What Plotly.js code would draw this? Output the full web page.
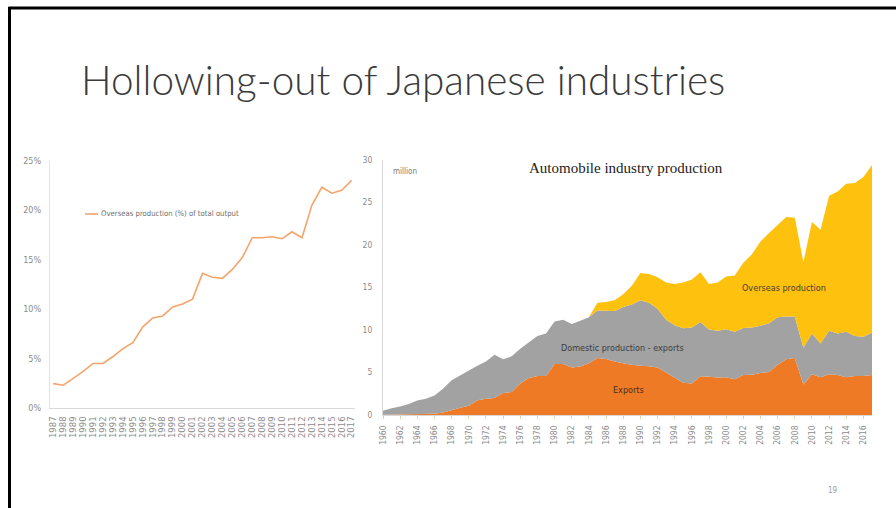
<!DOCTYPE html>
<html>
<head>
<meta charset="utf-8">
<script src="https://cdn.plot.ly/plotly-3.0.1.min.js"></script>
<style>
html,body{margin:0;padding:0;background:#fff;}
#chart{width:896px;height:508px;}
</style>
</head>
<body>
<div id="chart"></div>
<script>
// ---- Left chart data: overseas production share (%) ----
const shareYears = [1987,1988,1989,1990,1991,1992,1993,1994,1995,1996,1997,1998,1999,2000,2001,2002,2003,2004,2005,2006,2007,2008,2009,2010,2011,2012,2013,2014,2015,2016,2017];
const overseasShare = [2.46,2.3,3.0,3.7,4.5,4.5,5.2,6.0,6.6,8.2,9.1,9.3,10.2,10.5,11.0,13.6,13.2,13.1,14.0,15.2,17.2,17.2,17.3,17.1,17.8,17.2,20.5,22.3,21.7,22.0,23.0];
const shareTickVals = [0,5,10,15,20,25];

// ---- Right chart data: automobile production (million units) ----
const autoYears = [];
for (let y = 1960; y <= 2017; y++) autoYears.push(y);
const exportsM = [0.02,0.03,0.04,0.05,0.07,0.1,0.15,0.3,0.6,0.85,1.1,1.75,1.9,2.0,2.6,2.7,3.7,4.35,4.6,4.6,6.0,6.0,5.6,5.7,6.1,6.7,6.6,6.3,6.1,5.9,5.8,5.75,5.6,5.0,4.5,3.8,3.7,4.55,4.5,4.4,4.45,4.2,4.7,4.75,4.95,5.05,5.9,6.55,6.7,3.6,4.8,4.45,4.8,4.7,4.45,4.6,4.6,4.7];
const domesticMinusExports = [0.48,0.77,0.96,1.25,1.63,1.8,2.15,2.8,3.5,3.85,4.2,4.05,4.4,5.1,3.95,4.2,4.1,4.15,4.7,5.0,5.0,5.2,5.1,5.4,5.4,5.6,5.7,5.95,6.6,7.1,7.7,7.45,6.9,6.2,6.05,6.4,6.6,6.4,5.55,5.5,5.65,5.6,5.55,5.55,5.55,5.75,5.6,5.05,4.9,4.3,4.8,3.95,5.1,4.9,5.35,4.7,4.6,5.0];
const overseasM = [0,0,0,0,0,0,0,0,0,0,0,0,0,0,0,0,0,0,0,0,0,0,0,0,0,0.9,1.0,1.25,1.5,2.2,3.2,3.4,3.7,4.4,4.85,5.4,5.65,5.85,5.35,5.7,6.2,6.6,7.65,8.6,9.9,10.6,10.9,11.7,11.6,10.1,13.1,13.4,15.9,16.7,17.4,18.0,18.8,19.7];
const autoTickYears = [];
for (let y = 1960; y <= 2016; y += 2) autoTickYears.push(y);
const autoTickVals = [0,5,10,15,20,25,30];

const W = 896, H = 508;
const px = v => v / W;
const py = v => 1 - v / H;

const narrow = "Liberation Sans Narrow, DejaVu Sans Condensed, Arial Narrow, sans-serif";

const traces = [
  {
    x: shareYears, y: overseasShare, type: 'scatter', mode: 'lines',
    line: {color: '#F4A46C', width: 1.6},
    xaxis: 'x', yaxis: 'y', showlegend: false, hoverinfo: 'skip'
  },
  {
    x: autoYears, y: exportsM, type: 'scatter', mode: 'lines', stackgroup: 'auto',
    line: {width: 0, color: '#EE7A26'}, fillcolor: '#EE7A26',
    xaxis: 'x2', yaxis: 'y2', showlegend: false, hoverinfo: 'skip'
  },
  {
    x: autoYears, y: domesticMinusExports, type: 'scatter', mode: 'lines', stackgroup: 'auto',
    line: {width: 0, color: '#A2A2A2'}, fillcolor: '#A2A2A2',
    xaxis: 'x2', yaxis: 'y2', showlegend: false, hoverinfo: 'skip'
  },
  {
    x: autoYears, y: overseasM, type: 'scatter', mode: 'lines', stackgroup: 'auto',
    line: {width: 0, color: '#FDC10E'}, fillcolor: '#FDC10E',
    xaxis: 'x2', yaxis: 'y2', showlegend: false, hoverinfo: 'skip'
  }
];

const layout = {
  width: W, height: H,
  margin: {l: 0, r: 0, t: 0, b: 0, pad: 0},
  paper_bgcolor: '#ffffff', plot_bgcolor: 'rgba(0,0,0,0)',
  showlegend: false,
  xaxis: {
    domain: [px(50), px(355)], range: [1986.67, 2017.33], anchor: 'y',
    tickvals: shareYears, ticktext: shareYears.map(String), tickangle: -90,
    tickfont: {family: 'DejaVu Sans, sans-serif', size: 8.5, color: '#8c8c8c'},
    showline: true, linecolor: '#d9d9d9', linewidth: 1, ticks: '',
    showgrid: false, zeroline: false, fixedrange: true, ticklabelstandoff: 4
  },
  yaxis: {
    domain: [py(408), py(160.5)], range: [0, 25], anchor: 'x',
    tickvals: shareTickVals, ticktext: shareTickVals.map(v => v + '%'),
    tickfont: {family: narrow, size: 9, color: '#8c8c8c'},
    showline: true, linecolor: '#e3e3e3', linewidth: 1, ticks: '',
    showgrid: false, zeroline: false, fixedrange: true, ticklabelstandoff: 6
  },
  xaxis2: {
    domain: [px(383), px(872)], range: [1960, 2017], anchor: 'y2',
    tickvals: autoTickYears, ticktext: autoTickYears.map(String), tickangle: -90,
    tickfont: {family: narrow, size: 8.5, color: '#8c8c8c'},
    showline: true, linecolor: '#d9d9d9', linewidth: 1,
    ticks: 'outside', ticklen: 3, tickcolor: '#e6d2b0',
    showgrid: false, zeroline: false, fixedrange: true, ticklabelstandoff: 3
  },
  yaxis2: {
    domain: [py(415), py(160)], range: [0, 30], anchor: 'x2',
    tickvals: autoTickVals, ticktext: autoTickVals.map(String),
    tickfont: {family: narrow, size: 8.5, color: '#8c8c8c'},
    showline: true, linecolor: '#d9d9d9', linewidth: 1, ticks: '',
    showgrid: false, zeroline: false, fixedrange: true, ticklabelstandoff: 8
  },
  shapes: [
    // slide border
    {type: 'line', xref: 'paper', yref: 'paper', x0: px(8.5), x1: 1, y0: py(8), y1: py(8), line: {color: '#000', width: 3}},
    {type: 'line', xref: 'paper', yref: 'paper', x0: px(9.5), x1: px(9.5), y0: py(7), y1: 0, line: {color: '#000', width: 3}},
    // left legend line sample
    {type: 'line', xref: 'paper', yref: 'paper', x0: px(85), x1: px(98), y0: py(214), y1: py(214), line: {color: '#F4A46C', width: 1.6}}
  ],
  annotations: [
    {xref: 'paper', yref: 'paper', x: px(79), y: py(80), xanchor: 'left', yanchor: 'middle', showarrow: false,
     text: 'Hollowing-out of Japanese industries',
     font: {family: 'Lato, Noto Sans, sans-serif', size: 40.5, color: '#3a3a3a', weight: 300}},
    {xref: 'paper', yref: 'paper', x: px(99), y: py(214), xanchor: 'left', yanchor: 'middle', showarrow: false,
     text: 'Overseas production (%) of total output',
     font: {family: narrow, size: 7.7, color: '#6f6f6f'}},
    {xref: 'paper', yref: 'paper', x: px(391), y: py(171.5), xanchor: 'left', yanchor: 'middle', showarrow: false,
     text: 'million', font: {family: narrow, size: 8, color: '#7a7a7a'}},
    {xref: 'paper', yref: 'paper', x: px(625.5), y: py(168), xanchor: 'center', yanchor: 'middle', showarrow: false,
     text: 'Automobile industry production', font: {family: 'Liberation Serif, Times New Roman, serif', size: 15, color: '#222'}},
    {xref: 'x2', yref: 'y2', x: 2006.7, y: 14.9, xanchor: 'center', yanchor: 'middle', showarrow: false,
     text: 'Overseas production', font: {family: narrow, size: 9, color: '#4a4030'}},
    {xref: 'x2', yref: 'y2', x: 1987.9, y: 7.9, xanchor: 'center', yanchor: 'middle', showarrow: false,
     text: 'Domestic production - exports', font: {family: narrow, size: 9, color: '#3c3c3c'}},
    {xref: 'x2', yref: 'y2', x: 1988.6, y: 2.95, xanchor: 'center', yanchor: 'middle', showarrow: false,
     text: 'Exports', font: {family: narrow, size: 9, color: '#4a3020'}},
    {xref: 'paper', yref: 'paper', x: px(833), y: py(490), xanchor: 'center', yanchor: 'middle', showarrow: false,
     text: '19', font: {family: narrow, size: 8, color: '#9a9a9a'}}
  ]
};

Plotly.newPlot('chart', traces, layout, {staticPlot: true, displayModeBar: false});
</script>
</body>
</html>
